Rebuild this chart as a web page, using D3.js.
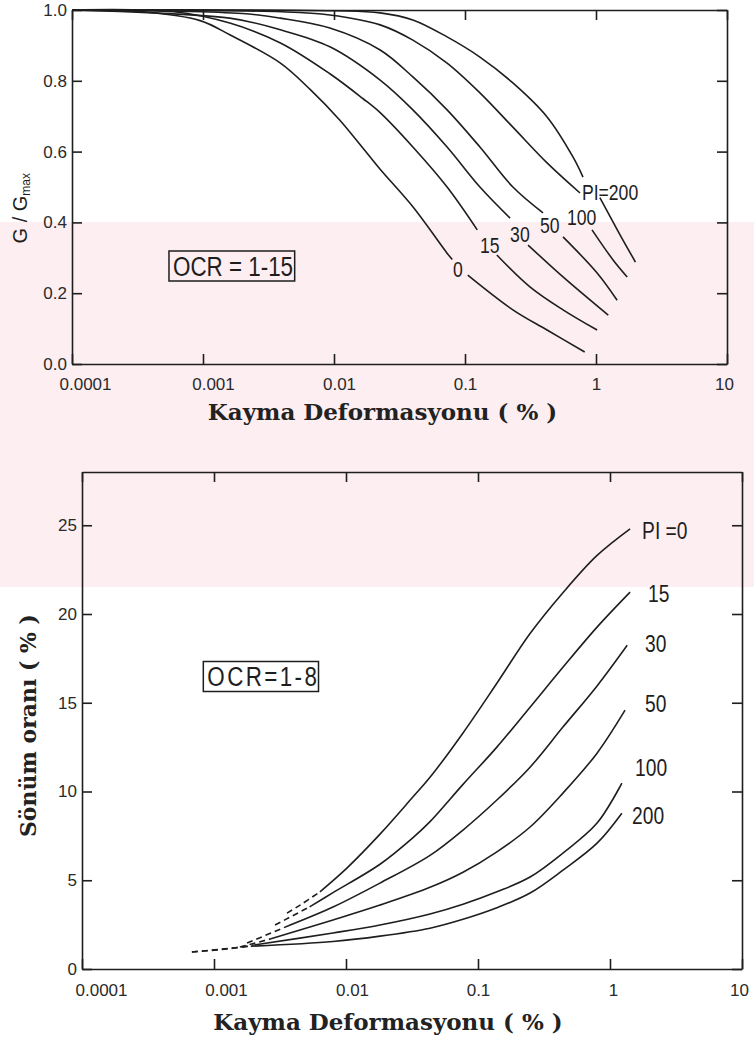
<!DOCTYPE html>
<html>
<head>
<meta charset="utf-8">
<script src="https://cdn.jsdelivr.net/npm/d3@7"></script>
<style>
  body { margin: 0; background: #fff; }
  svg { display: block; }
  .axis path, .axis line { stroke: #1e1e1e; stroke-width: 1.6; }
  .tick text { font-family: "Liberation Sans", Arial, sans-serif; font-size: 17px; fill: #2a2a2a; }
  .lbl { font-family: "Liberation Sans", Arial, sans-serif; fill: #1e1e1e; }
  .title { font-family: "DejaVu Serif", serif; font-weight: bold; fill: #222; }
  .curve { fill: none; stroke: #1e1e1e; stroke-width: 1.6; }
</style>
</head>
<body>
<svg width="754" height="1047"></svg>
<script>
var svg = d3.select("svg");

// shear strain axis (%), shared by both charts
var strainTicks = [0.0001, 0.001, 0.01, 0.1, 1, 10],
    strainLabels = ["0.0001", "0.001", "0.01", "0.1", "1", "10"];

var modTicks = [0, 0.2, 0.4, 0.6, 0.8, 1.0],
    modLabels = ["0.0", "0.2", "0.4", "0.6", "0.8", "1.0"];
var dampTicks = [0, 5, 10, 15, 20, 25],
    dampLabels = ["0", "5", "10", "15", "20", "25"];

// G/Gmax curves for PI = 0, 15, 30, 50, 100, 200  ([strain %, G/Gmax], null = gap for label)
var mod0 = [[0.0001, 1], [0.00035, 0.995], [0.00095, 0.97], [0.0016, 0.93], [0.0039, 0.85], [0.0066, 0.775],
            [0.011, 0.69], [0.0166, 0.61], [0.0225, 0.55], [0.040, 0.444], [0.073, 0.313], [0.08, 0.295], null,
            [0.105, 0.251], [0.232, 0.153], [0.423, 0.096], [0.82, 0.034]];
var mod15 = [[0.0001, 1], [0.0006, 0.995], [0.0016, 0.963], [0.0039, 0.907], [0.0093, 0.82], [0.0166, 0.75],
             [0.0225, 0.71], [0.040, 0.613], [0.073, 0.5], [0.124, 0.379], null,
             [0.175, 0.308], [0.313, 0.218], [0.56, 0.153], [1.02, 0.096]];
var mod30 = [[0.0001, 1], [0.0016, 0.977], [0.0039, 0.944], [0.0093, 0.896], [0.0225, 0.802], [0.040, 0.718],
             [0.073, 0.613], [0.130, 0.5], [0.221, 0.412], null,
             [0.303, 0.336], [0.56, 0.246], [1.24, 0.138]];
var mod50 = [[0.0001, 1], [0.002, 0.99], [0.0039, 0.977], [0.0093, 0.949], [0.0225, 0.887], [0.040, 0.811],
             [0.073, 0.718], [0.130, 0.613], [0.232, 0.5], [0.394, 0.427], null,
             [0.56, 0.359], [1.02, 0.257], [1.45, 0.18]];
var mod100 = [[0.0001, 1], [0.004, 0.995], [0.0093, 0.986], [0.0225, 0.958], [0.040, 0.915], [0.073, 0.85],
              [0.130, 0.766], [0.232, 0.669], [0.423, 0.568], [0.755, 0.483], null,
              [0.932, 0.379], [1.35, 0.294], [1.73, 0.246]];
var mod200 = [[0.0001, 1], [0.01, 0.998], [0.0225, 0.992], [0.040, 0.972], [0.073, 0.924], [0.130, 0.867],
              [0.232, 0.794], [0.423, 0.698], [0.667, 0.585], [0.796, 0.528], null,
              [1.07, 0.47], [1.5, 0.37], [2.0, 0.288]];
var modCurves = [mod0, mod15, mod30, mod50, mod100, mod200];
var modLabelText = ["0", "15", "30", "50", "100", "PI=200"];
var modLabelAt = [[0.081, 0.246], [0.130, 0.314], [0.221, 0.345], [0.374, 0.37], [0.601, 0.393], [0.781, 0.463]];

// damping ratio curves (%), same PI order
var damp0 = [[0.00357, 3.15], [0.00449, 3.6], [0.00635, 4.35], [0.0102, 5.7], [0.0181, 7.6], [0.0322, 9.7],
             [0.0433, 10.8], [0.077, 13.3], [0.139, 16.1], [0.248, 18.9], [0.44, 21.2], [0.798, 23.3],
             [1.42, 24.8]];
var damp15 = [[0.0029, 2.48], [0.0053, 3.5], [0.00797, 4.3], [0.0181, 5.9], [0.0322, 7.4], [0.0433, 8.3],
              [0.077, 10.4], [0.139, 12.5], [0.248, 14.75], [0.44, 17.0], [0.798, 19.26], [1.42, 21.23]];
var damp30 = [[0.00178, 1.46], [0.0037, 2.45], [0.00797, 3.49], [0.0181, 4.84], [0.0433, 6.4], [0.077, 7.83],
              [0.139, 9.52], [0.248, 11.37], [0.44, 13.63], [0.798, 15.95], [1.35, 18.24]];
var damp50 = [[0.00157, 1.24], [0.0027, 1.7], [0.00797, 2.76], [0.0181, 3.6], [0.0433, 4.6], [0.077, 5.45],
              [0.139, 6.6], [0.248, 8.0], [0.44, 9.91], [0.798, 12.16], [1.30, 14.58]];
var damp100 = [[0.00068, 0.96], [0.00125, 1.13], [0.002, 1.35], [0.00797, 2.03], [0.0181, 2.48], [0.0433, 3.1],
               [0.077, 3.65], [0.139, 4.35], [0.248, 5.18], [0.44, 6.53], [0.798, 8.22], [1.23, 10.47]];
var damp200 = [[0.00068, 0.96], [0.00139, 1.18], [0.0019, 1.28], [0.00797, 1.55], [0.0181, 1.85], [0.0433, 2.3],
               [0.077, 2.8], [0.139, 3.45], [0.248, 4.28], [0.44, 5.57], [0.798, 7.09], [1.23, 8.78]];
var dampCurves = [damp0, damp15, damp30, damp50, damp100, damp200];
var dampDashEnd = [0.00635, 0.0053, 0.0037, 0.0027, 0.002, 0.0019];
var dampLabelText = ["PI =0", "15", "30", "50", "100", "200"];
var dampLabelAt = [[1.75, 24.2], [1.94, 20.7], [1.84, 17.85], [1.84, 14.47], [1.55, 10.87], [1.47, 8.16]];

// pale watermark band behind the charts
svg.append("rect").attr("x", 0).attr("y", 222).attr("width", 754).attr("height", 365).attr("fill", "#fdeef1");

// draws the box with inward ticks on all four sides
function frame(g, x, y, w, h, yTicks, yLabels, xNudge, pad) {
  g.append("g").attr("class", "axis").attr("transform", "translate(0," + h + ")")
      .call(d3.axisBottom(x).tickValues(strainTicks)
        .tickFormat(function(d, i) { return strainLabels[i]; })
        .tickSizeInner(-10).tickSizeOuter(0).tickPadding(pad))
    .selectAll("text").attr("dx", function(d, i) { return xNudge[i]; });
  g.append("g").attr("class", "axis")
      .call(d3.axisTop(x).tickValues(strainTicks).tickFormat("").tickSizeInner(-10).tickSizeOuter(0));
  g.append("g").attr("class", "axis")
      .call(d3.axisLeft(y).tickValues(yTicks)
        .tickFormat(function(d, i) { return yLabels[i]; })
        .tickSizeInner(-10).tickSizeOuter(0).tickPadding(5));
  g.append("g").attr("class", "axis").attr("transform", "translate(" + w + ",0)")
      .call(d3.axisRight(y).tickValues(yTicks).tickFormat("").tickSizeInner(-10).tickSizeOuter(0));
}

// narrow label: plain sans squeezed horizontally
function narrow(g, px, py, txt, size, spacing) {
  var s = g.append("g").attr("transform", "translate(" + px + "," + py + ") scale(0.8,1)");
  s.append("text").attr("class", "lbl").attr("font-size", size)
      .attr("letter-spacing", spacing || 0).text(txt);
  return s;
}

// label in a rectangle
function boxLabel(g, px, py, txt, size, spacing) {
  var s = narrow(g, px, py, txt, size, spacing);
  var b = s.select("text").node().getBBox();
  s.insert("rect", "text").attr("x", b.x - 5).attr("y", b.y + 1)
      .attr("width", b.width + 7 - spacing).attr("height", b.height - 1)
      .attr("fill", "none").attr("stroke", "#1e1e1e").attr("stroke-width", 1.5)
      .attr("vector-effect", "non-scaling-stroke");
}

// ---- top chart : G / Gmax ----
var w1 = 655, h1 = 354;
var x1 = d3.scaleLog().domain([1e-4, 10]).range([0, w1]);
var y1 = d3.scaleLinear().domain([0, 1]).range([h1, 0]);
var g1 = svg.append("g").attr("transform", "translate(72,10)");

frame(g1, x1, y1, w1, h1, modTicks, modLabels, [13, 10, 5, 0, 0, -3], 14);

var line1 = d3.line()
    .defined(function(d) { return d !== null; })
    .x(function(d) { return x1(d[0]); })
    .y(function(d) { return y1(d[1]); })
    .curve(d3.curveCatmullRom.alpha(0.5));

g1.selectAll(".curve").data(modCurves).enter().append("path")
    .attr("class", "curve").attr("d", line1);

modLabelAt.forEach(function(d, i) {
  narrow(g1, x1(d[0]), y1(d[1]), modLabelText[i], 22);
});

boxLabel(g1, x1(0.00059), y1(0.25), "OCR = 1-15", 28, 0);

g1.append("text").attr("class", "lbl").attr("font-size", 20)
    .attr("transform", "translate(-45," + y1(0.44) + ") rotate(-90)")
    .attr("text-anchor", "middle")
    .text("G / G")
  .append("tspan").attr("font-size", 12).attr("dy", 3).text("max");

g1.append("text").attr("class", "title").attr("font-size", 23)
    .attr("x", w1 / 2 - 17).attr("y", h1 + 56).attr("text-anchor", "middle")
    .text("Kayma Deformasyonu ( % )");

// ---- bottom chart : damping ratio ----
var w2 = 660, h2 = 497;
var x2 = d3.scaleLog().domain([1e-4, 10]).range([0, w2]);
var y2 = d3.scaleLinear().domain([0, 28]).range([h2, 0]);
var g2 = svg.append("g").attr("class", "bot").attr("transform", "translate(82,472)");

frame(g2, x2, y2, w2, h2, dampTicks, dampLabels, [19, 12, 6, 0, 3, -3], 15);

var line2 = d3.line()
    .x(function(d) { return x2(d[0]); })
    .y(function(d) { return y2(d[1]); })
    .curve(d3.curveCatmullRom.alpha(0.5));

dampCurves.forEach(function(c, i) {
  var cut = dampDashEnd[i];
  g2.append("path").attr("class", "curve").attr("stroke-dasharray", "6,4")
      .attr("d", line2(c.filter(function(d) { return d[0] <= cut; })));
  g2.append("path").attr("class", "curve")
      .attr("d", line2(c.filter(function(d) { return d[0] >= cut; })));
});

dampLabelAt.forEach(function(d, i) {
  narrow(g2, x2(d[0]), y2(d[1]), dampLabelText[i], 24);
});

boxLabel(g2, x2(0.00089), y2(15.95), "OCR=1-8", 28, 3);

g2.append("text").attr("class", "title").attr("font-size", 22)
    .attr("transform", "translate(-46," + (h2 / 2 + 5) + ") rotate(-90)")
    .attr("text-anchor", "middle")
    .text("Sönüm oranı ( % )");

g2.append("text").attr("class", "title").attr("font-size", 23)
    .attr("x", w2 / 2 - 24).attr("y", h2 + 61).attr("text-anchor", "middle")
    .text("Kayma Deformasyonu ( % )");
</script>
</body>
</html>
